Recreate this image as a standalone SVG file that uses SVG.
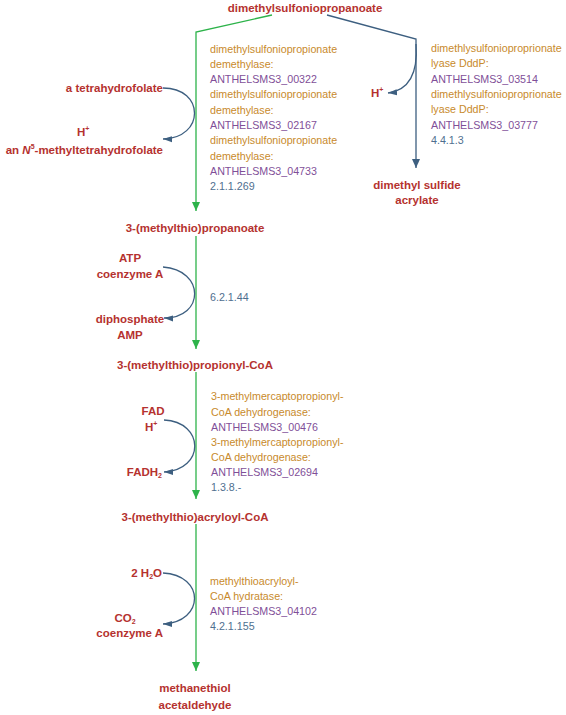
<svg xmlns="http://www.w3.org/2000/svg" width="566" height="715" viewBox="0 0 566 715">
<style>
.cpd{font-family:"Liberation Sans",Arial,sans-serif;font-weight:bold;font-size:11.5px;fill:#b5322f}
.lab{font-family:"Liberation Sans",Arial,sans-serif;font-size:10.7px}
.enz{fill:#c88a2c}
.gene{fill:#7f4f98}
.ec{fill:#4f6f8f}
.g{stroke:#2db34a;stroke-width:1.3;fill:none}
.b{stroke:#3d5f80;stroke-width:1.3;fill:none}
.sup{font-size:7px}
</style>
<defs>
<marker id="ga" markerUnits="userSpaceOnUse" markerWidth="10" markerHeight="10" refX="9" refY="4" orient="auto"><path d="M0,0 L9,4 L0,8 z" fill="#2db34a"/></marker>
<marker id="ba" markerUnits="userSpaceOnUse" markerWidth="10" markerHeight="10" refX="9" refY="4" orient="auto"><path d="M0,0 L9,4 L0,8 z" fill="#3d5f80"/></marker>
<marker id="sa" markerUnits="userSpaceOnUse" markerWidth="10" markerHeight="8" refX="9" refY="4" orient="auto"><path d="M0,0.5 L9,4 L0,6.5 z" fill="#3d5f80"/></marker>
</defs>
<rect width="566" height="715" fill="#ffffff"/>
<g id="connectors">
<path class="g" d="M272,15 L196,32 L196,211" marker-end="url(#ga)"/>
<path class="b" d="M327,15 L416,39 L416,168" marker-end="url(#ba)"/>
<path class="b" d="M416,44 C418,72 410,90 388,93" marker-end="url(#sa)"/>
<path class="b" d="M163,88 C205,88 205,138 163,139" marker-end="url(#sa)"/>
<path class="g" d="M196,236 L196,349" marker-end="url(#ga)"/>
<path class="b" d="M163,267 C205,270 205,318 164,318" marker-end="url(#sa)"/>
<path class="g" d="M196,372 L196,499" marker-end="url(#ga)"/>
<path class="b" d="M164,420 C205,422 205,470 164,472" marker-end="url(#sa)"/>
<path class="g" d="M196,524 L196,671" marker-end="url(#ga)"/>
<path class="b" d="M163,573 C205,575 205,622 163,624" marker-end="url(#sa)"/>
</g>
<g id="n_dmsp"><text class="cpd" x="305" y="12" text-anchor="middle">dimethylsulfoniopropanoate</text></g>
<g id="n_mtp"><text class="cpd" x="195" y="232" text-anchor="middle">3-(methylthio)propanoate</text></g>
<g id="n_mtpcoa"><text class="cpd" x="195" y="369" text-anchor="middle">3-(methylthio)propionyl-CoA</text></g>
<g id="n_mtacoa"><text class="cpd" x="195" y="521" text-anchor="middle">3-(methylthio)acryloyl-CoA</text></g>
<g id="n_final"><text class="cpd" x="195" y="692" text-anchor="middle">methanethiol</text><text class="cpd" x="195" y="709" text-anchor="middle">acetaldehyde</text></g>
<g id="n_dms"><text class="cpd" x="417" y="189" text-anchor="middle">dimethyl sulfide</text><text class="cpd" x="417" y="204" text-anchor="middle">acrylate</text></g>
<g id="side1">
<text class="cpd" x="163" y="92" text-anchor="end">a tetrahydrofolate</text>
<text class="cpd" x="77" y="136">H<tspan class="sup" dy="-5">+</tspan></text>
<text class="cpd" x="163" y="154" text-anchor="end">an <tspan font-style="italic">N</tspan><tspan class="sup" dy="-5">5</tspan><tspan dy="5">-methyltetrahydrofolate</tspan></text>
</g>
<g id="side_r"><text class="cpd" x="371" y="97">H<tspan class="sup" dy="-5">+</tspan></text></g>
<g id="side2">
<text class="cpd" x="130" y="262" text-anchor="middle">ATP</text>
<text class="cpd" x="130" y="278" text-anchor="middle">coenzyme A</text>
<text class="cpd" x="130" y="323" text-anchor="middle">diphosphate</text>
<text class="cpd" x="130" y="339" text-anchor="middle">AMP</text>
</g>
<g id="side3">
<text class="cpd" x="153" y="415" text-anchor="middle">FAD</text>
<text class="cpd" x="145" y="431">H<tspan class="sup" dy="-5">+</tspan></text>
<text class="cpd" x="162" y="476" text-anchor="end">FADH<tspan class="sup" dy="2">2</tspan></text>
</g>
<g id="side4">
<text class="cpd" x="162" y="577" text-anchor="end">2 H<tspan class="sup" dy="2">2</tspan><tspan dy="-2">O</tspan></text>
<text class="cpd" x="125" y="622" text-anchor="middle">CO<tspan class="sup" dy="2">2</tspan></text>
<text class="cpd" x="163" y="637" text-anchor="end">coenzyme A</text>
</g>
<g id="enz1" class="lab">
<text class="enz" x="210" y="52.5">dimethylsulfoniopropionate</text>
<text class="enz" x="210" y="67.8">demethylase:</text>
<text class="gene" x="210" y="83.1">ANTHELSMS3_00322</text>
<text class="enz" x="210" y="98.4">dimethylsulfoniopropionate</text>
<text class="enz" x="210" y="113.7">demethylase:</text>
<text class="gene" x="210" y="129">ANTHELSMS3_02167</text>
<text class="enz" x="210" y="144.3">dimethylsulfoniopropionate</text>
<text class="enz" x="210" y="159.6">demethylase:</text>
<text class="gene" x="210" y="174.9">ANTHELSMS3_04733</text>
<text class="ec" x="210" y="190.2">2.1.1.269</text>
</g>
<g id="enz_r" class="lab">
<text class="enz" x="431" y="52">dimethlysulfonioproprionate</text>
<text class="enz" x="431" y="67">lyase DddP:</text>
<text class="gene" x="431" y="83">ANTHELSMS3_03514</text>
<text class="enz" x="431" y="98">dimethlysulfonioproprionate</text>
<text class="enz" x="431" y="113">lyase DddP:</text>
<text class="gene" x="431" y="129">ANTHELSMS3_03777</text>
<text class="ec" x="431" y="144">4.4.1.3</text>
</g>
<g id="enz2" class="lab"><text class="ec" x="210" y="301">6.2.1.44</text></g>
<g id="enz3" class="lab">
<text class="enz" x="211" y="400">3-methylmercaptopropionyl-</text>
<text class="enz" x="211" y="415.5">CoA dehydrogenase:</text>
<text class="gene" x="211" y="431">ANTHELSMS3_00476</text>
<text class="enz" x="211" y="446">3-methylmercaptopropionyl-</text>
<text class="enz" x="211" y="461">CoA dehydrogenase:</text>
<text class="gene" x="211" y="476">ANTHELSMS3_02694</text>
<text class="ec" x="211" y="491">1.3.8.-</text>
</g>
<g id="enz4" class="lab">
<text class="enz" x="210" y="585">methylthioacryloyl-</text>
<text class="enz" x="210" y="600">CoA hydratase:</text>
<text class="gene" x="210" y="615">ANTHELSMS3_04102</text>
<text class="ec" x="210" y="630">4.2.1.155</text>
</g>
</svg>
